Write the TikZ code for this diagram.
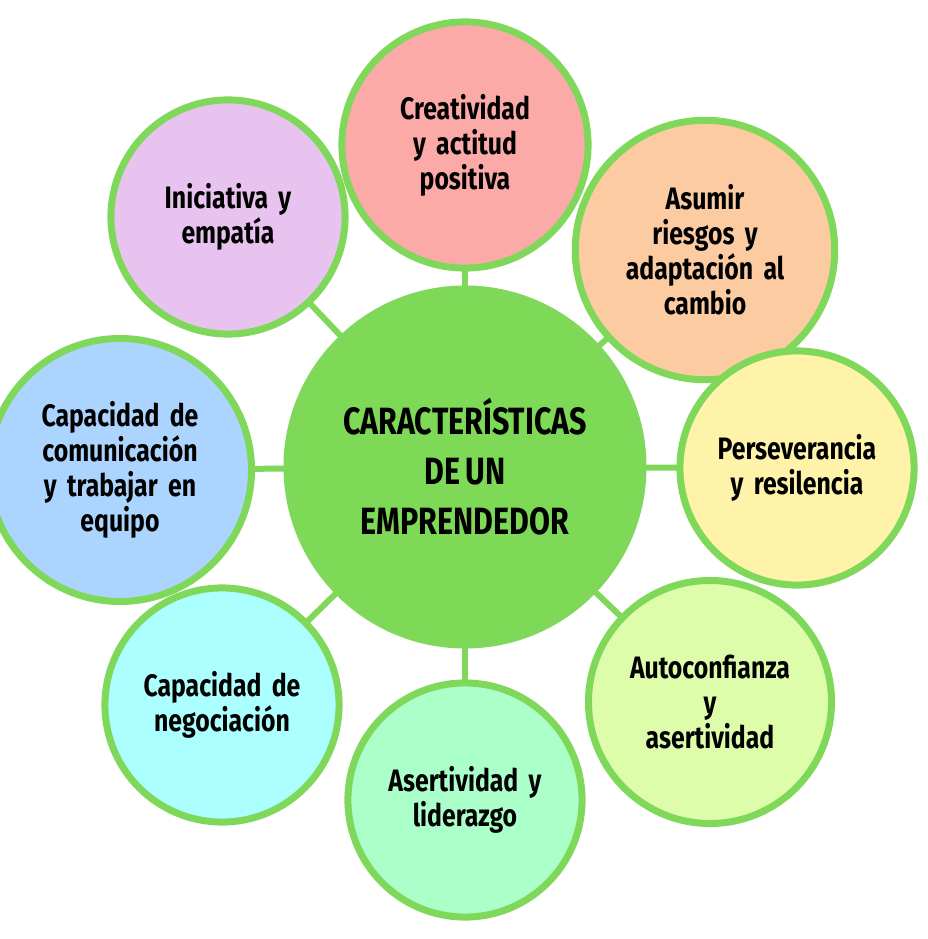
\documentclass[tikz,border=0pt]{standalone}
\usepackage{fontspec}
\setmainfont{Fira Sans}[FakeStretch=0.8,WordSpace=0.7]
\usetikzlibrary{backgrounds}
\definecolor{ring}{HTML}{7FD85A}
\definecolor{cmain}{HTML}{7ED957}
\definecolor{f1}{HTML}{FBAAA8}
\definecolor{f2}{HTML}{FCCBA2}
\definecolor{f3}{HTML}{FEF3A9}
\definecolor{f4}{HTML}{DEFDAB}
\definecolor{f5}{HTML}{ABFFC9}
\definecolor{f6}{HTML}{ABFFFF}
\definecolor{f7}{HTML}{ABD5FF}
\definecolor{f8}{HTML}{E9C3EF}
\tikzset{
 sat/.style={circle,draw=ring,line width=7pt,minimum size=226pt,inner sep=0pt,align=center,
   font=\fontsize{31}{35}\selectfont\bfseries,text width=225pt},
 link/.style={draw=ring,line width=6pt}
}
\begin{document}
\begin{tikzpicture}[x=1pt,y=-1pt]
\useasboundingbox (0,0) rectangle (927,939);
\node[circle,draw=ring,line width=7pt,fill=cmain,minimum size=356pt,align=center,
  font=\fontsize{38}{50}\selectfont\bfseries] (c) at (465,467) {CARACTERÍSTICAS\\DE UN\\EMPRENDEDOR};
\node[sat,fill=f1] (n1) at (465,145) {Creatividad\\y actitud\\positiva};
\node[sat,fill=f2] (n2) at (705,250) {Asumir\\riesgos y\\adaptación al\\cambio};
\node[sat,fill=f3] (n3) at (797,468) {Perseverancia\\y resilencia};
\node[sat,fill=f4] (n4) at (710,702) {Autoconfianza\\y\\asertividad};
\node[sat,fill=f5] (n5) at (465,800) {Asertividad y\\liderazgo};
\node[sat,fill=f6] (n6) at (222,705) {Capacidad de\\negociación};
\node[sat,fill=f7] (n7) at (120,470) {Capacidad de\\comunicación\\y trabajar en\\equipo};
\node[sat,fill=f8] (n8) at (228,217) {Iniciativa y\\empatía};
\begin{scope}[on background layer]
\foreach \n in {n1,n2,n3,n4,n5,n6,n7,n8} \draw[link] (c.center) -- (\n.center);
\end{scope}
\end{tikzpicture}
\end{document}
